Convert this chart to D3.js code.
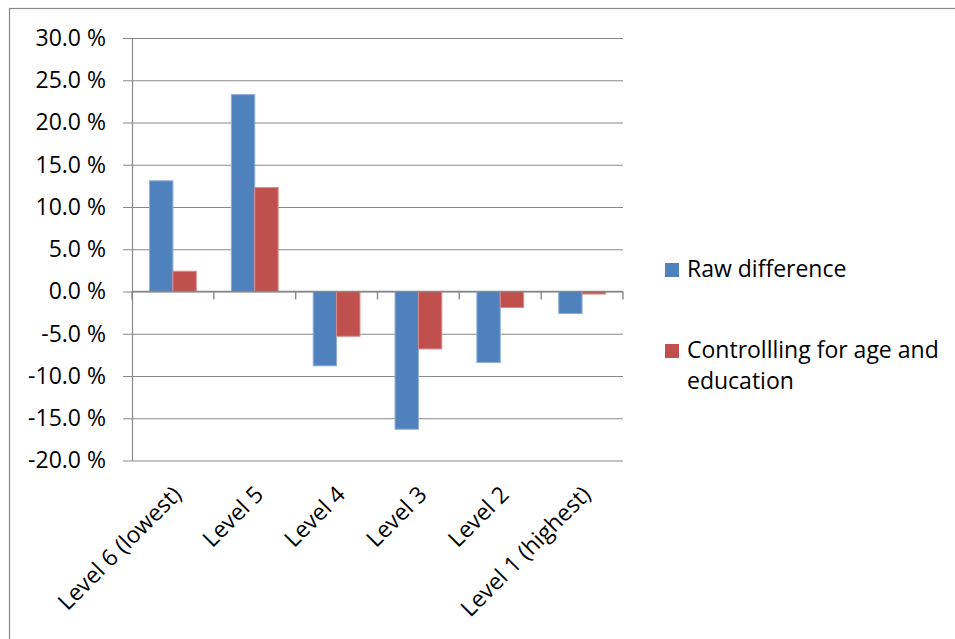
<!DOCTYPE html>
<html>
<head>
<meta charset="utf-8">
<script src="https://cdn.jsdelivr.net/npm/d3@7"></script>
<style>
  html, body { margin: 0; padding: 0; background: #fff; }
  svg { display: block; }
  text { font-family: "Open Sans", "Noto Sans", sans-serif; fill: #000; }
</style>
</head>
<body>
<svg id="chart" width="955" height="639"></svg>
<script>
const categories = ["Level 6 (lowest)", "Level 5", "Level 4", "Level 3", "Level 2", "Level 1 (highest)"];
const seriesNames = ["Raw difference", "Controllling for age and education"];
const rawDifference = [13.1, 23.3, -8.8, -16.3, -8.4, -2.6];
const controlling = [2.4, 12.3, -5.3, -6.8, -1.9, -0.3];
const yTicks = [-20, -15, -10, -5, 0, 5, 10, 15, 20, 25, 30];
const colors = ["#4F81BD", "#C0504D"];
const strokeColors = ["#8EAEDA", "#D88C8A"];

const seriesValues = [rawDifference, controlling];
const rows = categories.map((c, i) => ({
  cat: c,
  vals: seriesNames.map((s, j) => ({ series: s, idx: j, value: seriesValues[j][i] }))
}));

const svg = d3.select("#chart");
const plot = { left: 132, right: 623, top: 38, bottom: 460.5 };

// chart area border (right/bottom edges fall outside the view)
svg.append("rect")
  .attr("x", 9.5).attr("y", 8.5)
  .attr("width", 1000).attr("height", 700)
  .attr("fill", "none").attr("stroke", "#888").attr("stroke-width", 1.2);

const x0 = d3.scaleBand().domain(categories).range([plot.left, plot.right]).paddingInner(0).paddingOuter(0);
const x1 = d3.scaleBand().domain(seriesNames).range([0, x0.bandwidth()]).paddingInner(0).paddingOuter(0.75);
const y = d3.scaleLinear().domain([-20, 30]).range([plot.bottom, plot.top]);

const fmt = d => d3.format(".1f")(d).replace("\u2212", "-") + " %";

// gridlines
const gy = svg.append("g").attr("transform", `translate(${plot.right},0)`);
gy.call(d3.axisLeft(y).tickValues(yTicks).tickSize(plot.right - plot.left + 9).tickFormat(""));
gy.select(".domain").remove();
gy.selectAll(".tick line").attr("stroke", "#888").attr("stroke-width", 1.2);

// y labels + axis line
const gyl = svg.append("g").attr("transform", `translate(${plot.left},0)`);
gyl.call(d3.axisLeft(y).tickValues(yTicks).tickSize(0).tickPadding(26).tickFormat(fmt));
gyl.select(".domain").attr("stroke", "#888").attr("stroke-width", 1.2);
gyl.selectAll(".tick text")
  .style("font-family", "'Open Sans', sans-serif")
  .style("font-size", "23px")
  .attr("fill", "#000");

// bars
const groups = svg.append("g").selectAll("g").data(rows).join("g")
  .attr("transform", d => `translate(${x0(d.cat)},0)`);
groups.selectAll("rect").data(d => d.vals).join("rect")
  .attr("x", d => x1(d.series))
  .attr("width", x1.bandwidth())
  .attr("y", d => y(Math.max(0, d.value)))
  .attr("height", d => Math.abs(y(d.value) - y(0)))
  .attr("fill", d => colors[d.idx])
  .attr("stroke", d => strokeColors[d.idx])
  .attr("stroke-width", 1);

// x axis at zero with ticks at band boundaries
const boundaries = categories.map(c => x0(c)).concat([plot.right]);
const xg = svg.append("g");
xg.append("line")
  .attr("x1", plot.left).attr("x2", plot.right)
  .attr("y1", y(0)).attr("y2", y(0))
  .attr("stroke", "#888").attr("stroke-width", 1.6);
xg.selectAll("line.tk").data(boundaries).join("line").attr("class", "tk")
  .attr("x1", d => d).attr("x2", d => d)
  .attr("y1", y(0)).attr("y2", y(0) + 8)
  .attr("stroke", "#888").attr("stroke-width", 1.4);

// category labels
svg.append("g").selectAll("text").data(categories).join("text")
  .attr("transform", d => `translate(${x0(d) + x0.bandwidth() / 2 + 10},496) rotate(-45)`)
  .attr("text-anchor", "end")
  .style("font-size", "23px")
  .text(d => d);

// legend
const legend = svg.append("g");
const legendItems = [
  { idx: 0, lines: ["Raw difference"], sy: 263 },
  { idx: 1, lines: ["Controllling for age and", "education"], sy: 344 }
];
legendItems.forEach(it => {
  legend.append("rect").attr("x", 665).attr("y", it.sy).attr("width", 14).attr("height", 14)
    .attr("fill", colors[it.idx]);
  const t = legend.append("text").attr("x", 687).attr("y", it.sy + 14).style("font-size", "23px");
  it.lines.forEach((ln, k) => {
    t.append("tspan").attr("x", 687).attr("dy", k === 0 ? 0 : 31).text(ln);
  });
});
</script>
</body>
</html>
